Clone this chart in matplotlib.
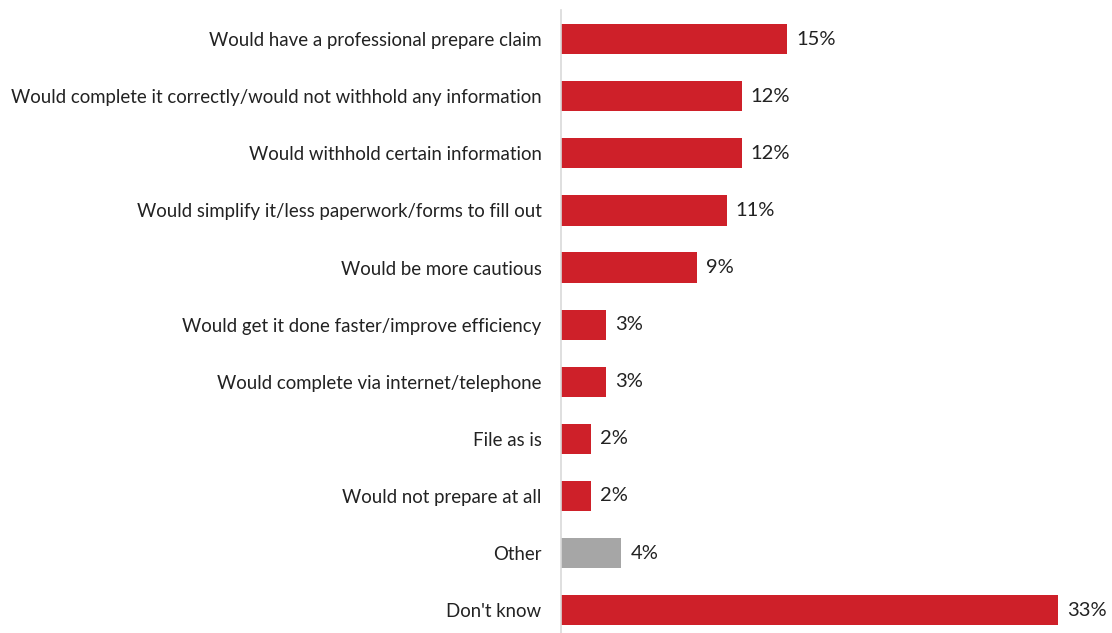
import matplotlib
matplotlib.use("Agg")
import matplotlib.pyplot as plt

# antworten und anteile in prozent
labels = [
    "Would have a professional prepare claim",
    "Would complete it correctly/would not withhold any information",
    "Would withhold certain information",
    "Would simplify it/less paperwork/forms to fill out",
    "Would be more cautious",
    "Would get it done faster/improve efficiency",
    "Would complete via internet/telephone",
    "File as is",
    "Would not prepare at all",
    "Other",
    "Don't know",
]
values = [15, 12, 12, 11, 9, 3, 3, 2, 2, 4, 33]
colors = ["#CE2029"] * 9 + ["#A6A6A6"] + ["#CE2029"]

plt.rcParams["font.family"] = ["Lato", "DejaVu Sans"]

fig = plt.figure(figsize=(11.12, 6.33), dpi=100)
ax = fig.add_axes([561 / 1112, 0, (1100 - 561) / 1112, 1 - 10 / 633])

y = list(range(len(labels)))
ax.barh(y, values, height=0.53, color=colors)

for yi, v in zip(y, values):
    ax.text(v + 0.6, yi, f"{v}%", va="center", ha="left", fontsize=14.5, color="#222222")

ax.set_yticks(y)
ax.set_yticklabels(labels, fontsize=13.4, color="#222222")
ax.tick_params(axis="y", length=0, pad=14)
ax.set_xticks([])

ax.set_xlim(0, 33 * 539 / 497)
ax.set_ylim(10.4, -0.51)

for s in ["top", "right", "bottom"]:
    ax.spines[s].set_visible(False)
ax.spines["left"].set_color("#D9D9D9")
ax.spines["left"].set_linewidth(1.2)

fig.savefig("out.png", dpi=100)
